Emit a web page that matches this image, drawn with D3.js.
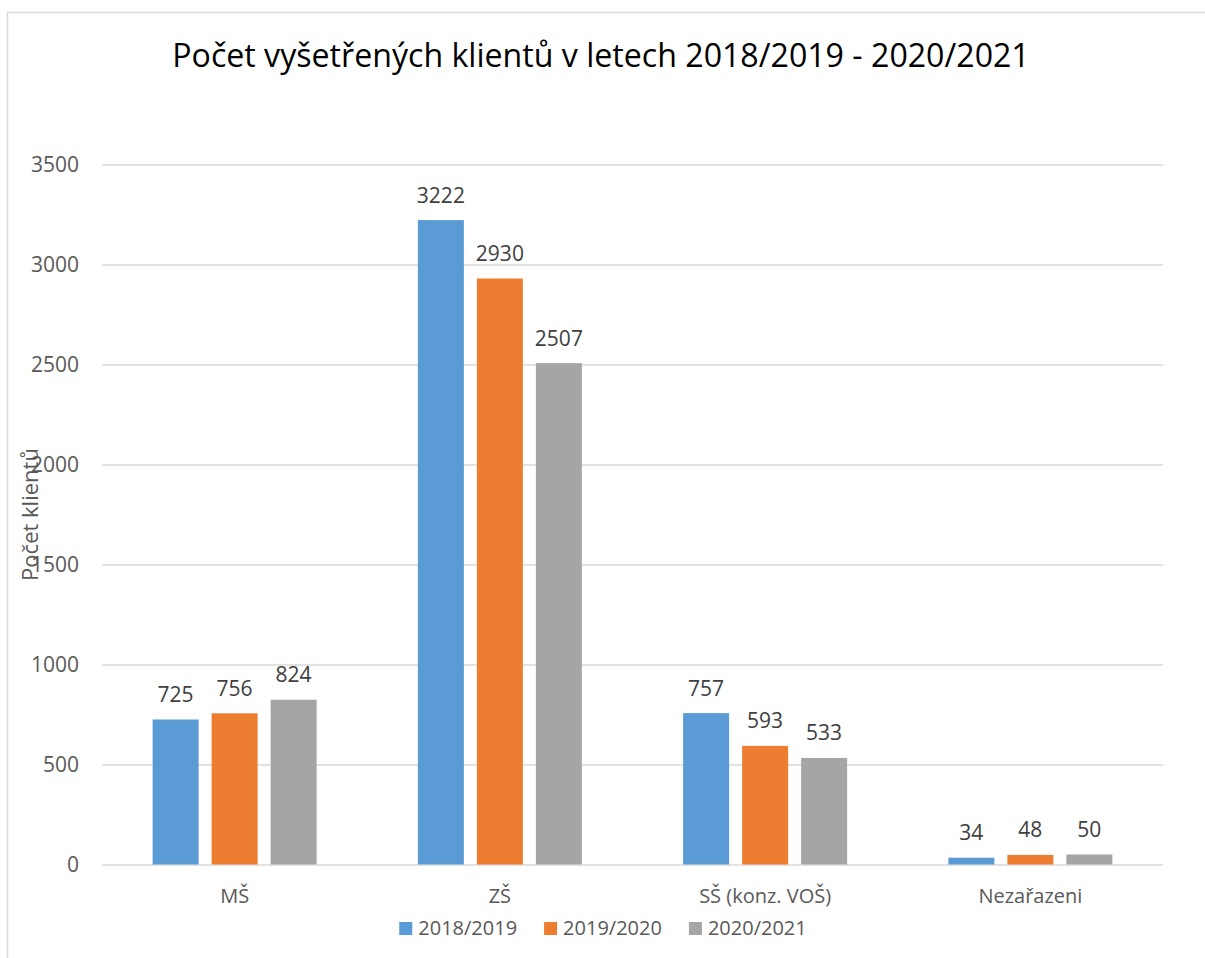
<!DOCTYPE html>
<html>
<head>
<meta charset="utf-8">
<script src="https://cdn.jsdelivr.net/npm/d3@7"></script>
<style>
  body { margin: 0; background: #fff; }
  text { font-family: "Open Sans", sans-serif; }
</style>
</head>
<body>
<div id="chart"></div>
<script>
// data
var categories = ["MŠ", "ZŠ", "SŠ (konz. VOŠ)", "Nezařazeni"];
var seriesNames = ["2018/2019", "2019/2020", "2020/2021"];
var values2018 = [725, 3222, 757, 34];
var values2019 = [756, 2930, 593, 48];
var values2020 = [824, 2507, 533, 50];
var yTicks = [0, 500, 1000, 1500, 2000, 2500, 3000, 3500];
var colors = ["#5B9BD5", "#ED7D31", "#A5A5A5"];
var titleText = "Počet vyšetřených klientů v letech 2018/2019 - 2020/2021";
var yLabel = "Počet klientů";

var seriesValues = [values2018, values2019, values2020];

var W = 1205, H = 958;
var margin = {top: 164.5, right: 42, bottom: 93.5, left: 102},
    width = W - margin.left - margin.right,
    height = H - margin.top - margin.bottom;

var svg = d3.select("#chart")
  .append("svg")
    .attr("width", W)
    .attr("height", H);

svg.append("rect")
  .attr("width", W).attr("height", H)
  .attr("fill", "#fff");

// chart frame (runs off right/bottom edge)
svg.append("rect")
  .attr("x", 7.5).attr("y", 12.5)
  .attr("width", 1400).attr("height", 1100)
  .attr("fill", "none")
  .attr("stroke", "#d9d9d9")
  .attr("stroke-width", 1.5);

var g = svg.append("g")
  .attr("transform", "translate(" + margin.left + "," + margin.top + ")");

// scales
var y = d3.scaleLinear().domain([0, 3500]).range([height, 0]);
var x = d3.scaleBand().domain(categories).range([0, width]);
var groupW = 164;
var x1 = d3.scaleBand()
  .domain(seriesNames)
  .range([(x.bandwidth() - groupW) / 2, (x.bandwidth() + groupW) / 2])
  .paddingInner(13 / 59);

// y axis + gridlines
var yAxis = g.append("g")
  .call(d3.axisLeft(y).tickValues(yTicks).tickSize(-width).tickPadding(23).tickFormat(d3.format("d")));
yAxis.select(".domain").remove();
yAxis.selectAll("line").attr("stroke", "#d9d9d9").attr("stroke-width", 1.5);
yAxis.selectAll("text")
  .attr("fill", "#595959")
  .style("font-size", "21px");

// x axis labels
var xAxis = g.append("g")
  .attr("transform", "translate(0," + height + ")")
  .call(d3.axisBottom(x).tickSize(0).tickPadding(24));
xAxis.select(".domain").remove();
xAxis.selectAll("text")
  .attr("fill", "#595959")
  .style("font-size", "20px");

// bars
var rows = [];
categories.forEach(function(c, i) {
  seriesNames.forEach(function(s, j) {
    rows.push({cat: c, series: s, value: seriesValues[j][i], idx: j});
  });
});

var bars = g.selectAll(".bar")
  .data(rows)
  .enter()
  .append("g")
    .attr("transform", function(d) { return "translate(" + x(d.cat) + ",0)"; });

bars.append("rect")
  .attr("x", function(d) { return x1(d.series); })
  .attr("y", function(d) { return y(d.value); })
  .attr("width", x1.bandwidth())
  .attr("height", function(d) { return height - y(d.value); })
  .attr("fill", function(d) { return colors[d.idx]; });

bars.append("text")
  .attr("x", function(d) { return x1(d.series) + x1.bandwidth() / 2; })
  .attr("y", function(d) { return y(d.value) - 17.6; })
  .attr("text-anchor", "middle")
  .attr("fill", "#404040")
  .style("font-size", "21px")
  .text(function(d) { return d.value; });

// y axis title
svg.append("text")
  .attr("transform", "translate(38," + (margin.top + height / 2) + ") rotate(-90)")
  .attr("text-anchor", "middle")
  .attr("fill", "#595959")
  .style("font-size", "22px")
  .text(yLabel);

// title, fit to reference width
var title = svg.append("text")
  .attr("x", 601)
  .attr("y", 67)
  .attr("text-anchor", "middle")
  .attr("fill", "#000")
  .style("font-size", "33px")
  .text(titleText);
var tl = title.node().getComputedTextLength();
title.style("font-size", (33 * 858 / tl) + "px");

// legend
var legend = svg.append("g");
var lx = 0;
seriesNames.forEach(function(s, i) {
  var item = legend.append("g").attr("transform", "translate(" + lx + ",0)");
  item.append("rect")
    .attr("x", 0).attr("y", 922)
    .attr("width", 13).attr("height", 13)
    .attr("fill", colors[i]);
  var t = item.append("text")
    .attr("x", 19).attr("y", 935)
    .attr("fill", "#595959")
    .style("font-size", "20px")
    .text(s);
  lx += 19 + t.node().getComputedTextLength() + 27;
});
var legendW = lx - 27;
legend.attr("transform", "translate(" + (603 - legendW / 2) + ",0)");
</script>
</body>
</html>
